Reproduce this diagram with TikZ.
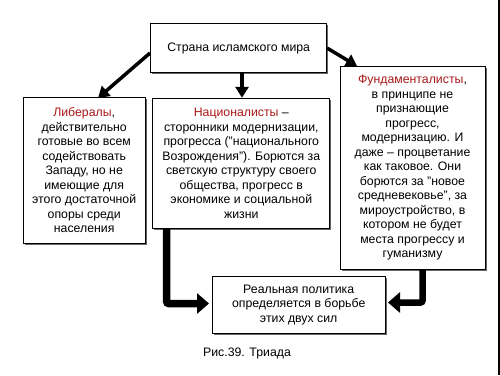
\documentclass[tikz,border=0pt]{standalone}
\usepackage{fontspec}
\setmainfont{Liberation Sans}
\usetikzlibrary{arrows.meta,shadows}
\definecolor{namered}{RGB}{170,25,25}
\tikzset{
  box/.style={draw, line width=1pt, fill=white, align=center, inner sep=0pt,
    font=\fontsize{12.3}{14.5}\selectfont,
    drop shadow={shadow xshift=1.5pt, shadow yshift=-1.5pt, fill=black!60, opacity=1}},
  thinarrow/.style={line width=3.5pt, -{Triangle[length=11pt,width=13pt]}},
  fatarrow/.style={line width=7.5pt, -{Triangle[length=12pt,width=20pt]}}
}
\newcommand{\nm}[1]{\textcolor{namered}{#1}}
\begin{document}
\begin{tikzpicture}[x=1pt,y=-1pt]
\useasboundingbox (0,0) rectangle (500,375);
\draw[line width=1.5pt] (499,0) -- (499,375);
\node[box, minimum width=176pt, minimum height=48.7pt] (country) at (238.7,48.3) {Страна исламского мира};
\node[box, minimum width=121.7pt, minimum height=146pt] (liberal) at (84.2,170.3)
  {\nm{Либералы},\\действительно\\готовые во всем\\содействовать\\Западу, но не\\имеющие для\\этого достаточной\\опоры среди\\населения};
\node[box, minimum width=177.3pt, minimum height=130pt] (national) at (241.3,163.3)
  {\nm{Националисты} --\\сторонники модернизации,\\прогресса ("национального\\Возрождения"). Борются за\\светскую структуру своего\\общества, прогресс в\\экономике и социальной\\жизни};
\node[box, minimum width=145pt, minimum height=202.6pt] (fundam) at (412.5,168)
  {\nm{Фундаменталисты},\\в принципе не\\признающие\\прогресс,\\модернизацию. И\\даже -- процветание\\как таковое. Они\\борются за "новое\\средневековье", за\\мироустройство, в\\котором не будет\\места прогрессу и\\гуманизму};
\node[box, minimum width=172.7pt, minimum height=56.7pt] (policy) at (298.7,305)
  {\raisebox{3pt}{\parbox{170pt}{\centering Реальная политика\\определяется в борьбе\\этих двух сил}}};
\node[font=\fontsize{12.3}{14}\selectfont] (caption) at (247,353) {Рис.39. Триада};
\coordinate (p1) at (150,53);
\coordinate (t1) at (98,98);
\draw[thinarrow] (p1) -- (t1);
\draw[thinarrow] (country.south -| 242,0) -- (national.north -| 242,0);
\coordinate (p3) at (327,48);
\coordinate (t3) at (357,66);
\draw[thinarrow] (p3) -- (t3);
\coordinate (t4) at (209,303.5);
\draw[fatarrow, rounded corners=2pt] (national.south -| 166.7,0) |- (t4);
\coordinate (t5) at (388,302.5);
\draw[fatarrow, line width=6.5pt, rounded corners=2pt] (fundam.south -| 422.5,0) |- (t5);
\end{tikzpicture}
\end{document}
